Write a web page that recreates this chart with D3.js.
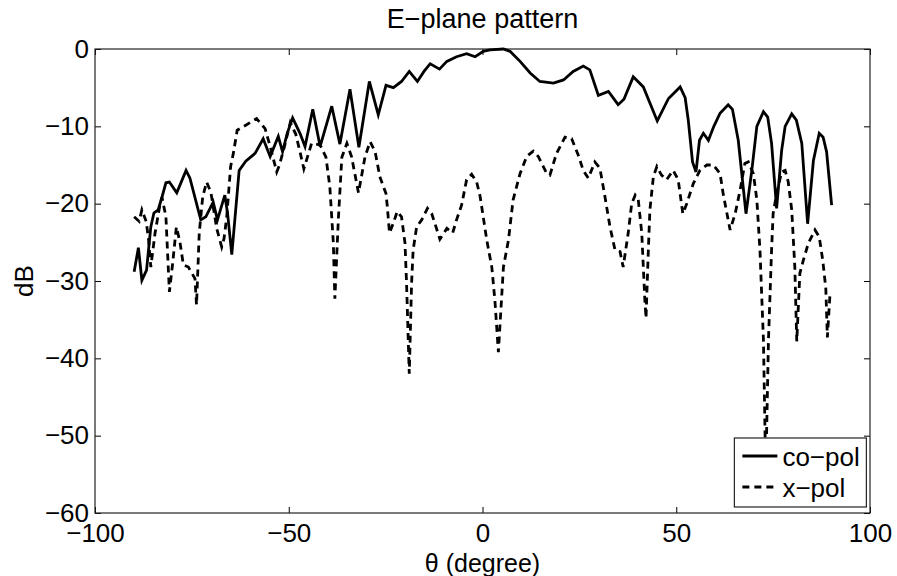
<!DOCTYPE html>
<html>
<head>
<meta charset="utf-8">
<script src="https://cdn.jsdelivr.net/npm/d3@7"></script>
<style>
  body { margin: 0; background: #fff; }
  text { font-family: "Liberation Sans", Arial, sans-serif; fill: #000; }
</style>
</head>
<body>
<div id="chart"></div>
<script>
// angles (degree) et niveaux (dB)
const coTheta = [-89.9, -88.8, -87.9, -86.7, -85.6, -84.8, -83.7, -82.8, -81.7, -80.8, -78.9, -76.5, -75.5,
  -72.7, -71.4, -69.5, -68.4, -66.5, -65.8, -64.7, -62.8, -61.1, -58.7, -56.6, -54.8, -52.7, -51.6, -50.4,
  -49, -47.1, -45.8, -43.8, -41.9, -38.9, -36.8, -34.2, -31.9, -29.2, -26.9, -24.9, -23, -20.9, -18.9, -16.8,
  -15.1, -13.5, -11.1, -9.2, -6.7, -4.1, -1.9, 0.2, 1.9, 5.4, 7.1, 9.7, 12.3, 14.8, 18.3, 20.9, 23.4, 26, 27.7,
  29.9, 32.5, 35, 36.5, 38.9, 41.5, 45.1, 48, 51, 52.3, 53.1, 54.2, 55.1, 56, 57, 58.3, 59.7, 61.3, 63.4, 64.5,
  66, 68, 69.5, 70.8, 72.5, 73.6, 74.6, 75.9, 77.2, 78.1, 79.8, 81, 82.4, 83.9, 85.4, 86.9, 87.9, 88.8, 90.1];
const coDb = [-28.8, -25.7, -29.9, -28.6, -23, -21.2, -20.8, -19.3, -17.3, -17.2, -18.6, -15.7, -16.7,
  -22.1, -21.7, -19.8, -22.1, -18.9, -21.2, -26.6, -15.7, -14.5, -13.5, -11.6, -13.9, -11.3, -13.3, -10.9,
  -8.9, -10.9, -12.6, -7.8, -12.6, -7.4, -12.3, -5.2, -12.7, -4.2, -8.5, -4.7, -5, -4.2, -2.9, -4.2,
  -2.9, -1.9, -2.6, -1.6, -1, -0.6, -1, -0.3, -0.1, 0, -0.3, -1.6, -3.1, -4.2, -4.4, -4, -2.9, -2.2, -2.7,
  -6, -5.5, -7.2, -6.5, -3.6, -4.9, -9.3, -6.4, -4.9, -6.3, -9.2, -14.6, -15.9, -11.8, -10.9, -11.8, -10, -8.3, -7.2, -7.8,
  -11.8, -21.3, -15.7, -10, -8.1, -8.8, -12.2, -20.6, -13.1, -10, -8.4, -9.2, -12.2, -22.6, -14.4, -10.9, -11.4, -13.3, -20.2];

const xTheta = [-89.9, -88.6, -87.9, -86.8, -86.2, -85.6, -84.5, -83.2, -82.7, -81.7, -80.8, -80, -79, -78.1,
  -77.2, -75.9, -74.2, -73.8, -73.1, -72.2, -71.2, -70.1, -68.6, -67.3, -66.7, -66, -65, -64.3, -63.3, -60.9,
  -58.3, -56.1, -54.8, -53.1, -52.4, -51, -49.6, -48.2, -47.1, -46.1, -44.1, -41.9, -40.4, -39.4, -38.5, -38.1,
  -37.2, -36.3, -35, -33.8, -32, -30.3, -29, -27.7, -26.5, -24.9, -24.6, -24, -23, -22, -20.9, -20, -19.6, -18.9,
  -18.3, -17.9, -17, -15.7, -14.2, -13.1, -12, -11, -9.2, -7.7, -6.7, -5.4, -4.1, -2.8, -1.5, -0.6, 1.1, 2.4,
  3.2, 4.1, 5.4, 6.7, 7.9, 9.7, 11.4, 13.1, 14.4, 16.6, 17.4, 19.1, 21.3, 23, 24.7, 26, 27.3, 29, 30.3, 31.6,
  32.9, 34.2, 35.5, 36.3, 37.6, 38.5, 39.4, 40.2, 41.1, 41.9, 42.2, 42.8, 43.2, 44.1, 45, 46.2, 47.5, 49.2, 50.5,
  51.7, 52.7, 54.4, 56.1, 57.9, 59.6, 61.3, 62.1, 63.4, 63.9, 65.2, 66.5, 67.7, 68.6, 69.9, 70.8, 71.6, 72.5,
  73.1, 73.8, 74.6, 75, 75.9, 77.2, 78.1, 78.9, 79.8, 80.6, 81.1, 81.9, 82.8, 84.1, 85.8, 86.9, 87.8, 88.6, 89, 89.7];
const xDb = [-21.7, -22.3, -20.8, -22.3, -24.5, -28.2, -23.8, -20, -19.2, -21.7, -31.4, -27.9, -23, -24.9,
  -27.9, -28.2, -29.7, -33.1, -23.8, -19.1, -17.2, -18.5, -23.2, -25.6, -24.5, -21.7, -15.2, -13.5, -10.5, -9.8,
  -9, -10.3, -12.6, -15.9, -15, -12.4, -9.5, -11, -13.3, -15.5, -12.2, -12.4, -14, -17.8, -25, -32.3,
  -22, -14, -12.2, -13.9, -18.6, -13.9, -12, -13.3, -16.5, -18.7, -20.2, -23.8, -22.5, -21, -21.7, -25.1, -30.3, -42,
  -30.3, -26, -23, -22.1, -20.6, -21.3, -23, -24.6, -23.2, -23.8, -22.1, -20.2, -16.9, -16.2, -17.2, -19.1, -24.7, -28.2,
  -32.5, -39.2, -28.2, -24.7, -19.5, -16.1, -13.9, -13.2, -13.9, -16.1, -16.3, -13.5, -11.4, -11.6, -13.7, -15.7, -16.7, -14.6, -15.4, -19.1,
  -23, -26, -26.2, -28.2, -23.8, -20, -18.9, -19.5, -23.8, -32.5, -34.8, -26, -20.8, -16.5, -15.2, -16.3, -16.9, -15.7, -16.9,
  -21.3, -20, -17.4, -15.7, -15, -15, -16.1, -18.7, -22.1, -23.4, -21.3, -18.2, -14.8, -14.6, -16.1, -19.5, -26, -37.6,
  -55, -37.6, -26, -21.3, -18.7, -15.9, -15.7, -17.2, -20.8, -28.2, -37.8, -29, -27.3, -25.1, -23.4, -24.3, -27.3, -31, -37.3, -31.5];

const xTicks = [-100, -50, 0, 50, 100];
const yTicks = [0, -10, -20, -30, -40, -50, -60];
const seriesNames = ["co\u2212pol", "x\u2212pol"];

const W = 897, H = 576;
const margin = { top: 49, right: 27, bottom: 63, left: 95 };
const width = W - margin.left - margin.right;
const height = H - margin.top - margin.bottom;
const fs = 26;

const svg = d3.select("#chart").append("svg")
  .attr("width", W).attr("height", H);
const g = svg.append("g")
  .attr("transform", `translate(${margin.left},${margin.top})`);

const x = d3.scaleLinear().domain([-100, 100]).range([0, width]);
const y = d3.scaleLinear().domain([-60, 0]).range([height, 0]);

const fmt = d => String(d).replace("-", "\u2212");

// axes (ticks vers l'intérieur, comme matlab)
g.append("g").attr("transform", `translate(0,${height})`)
  .call(d3.axisBottom(x).tickValues(xTicks).tickSizeInner(-6).tickSizeOuter(0).tickPadding(11).tickFormat(fmt))
  .call(a => a.select(".domain").remove())
  .call(a => a.selectAll("text").style("font-size", fs + "px").attr("dy", "0.71em"));
g.append("g")
  .call(d3.axisLeft(y).tickValues(yTicks).tickSizeInner(-6).tickSizeOuter(0).tickPadding(6).tickFormat(fmt))
  .call(a => a.select(".domain").remove())
  .call(a => a.selectAll("text").style("font-size", fs + "px"));
g.append("g")
  .call(d3.axisTop(x).tickValues(xTicks).tickSizeInner(-6).tickSizeOuter(0).tickFormat(""))
  .call(a => a.select(".domain").remove());
g.append("g").attr("transform", `translate(${width},0)`)
  .call(d3.axisRight(y).tickValues(yTicks).tickSizeInner(-6).tickSizeOuter(0).tickFormat(""))
  .call(a => a.select(".domain").remove());
g.selectAll(".tick line").attr("stroke", "#000");

g.append("rect")
  .attr("width", width).attr("height", height)
  .attr("fill", "none").attr("stroke", "#222").attr("stroke-width", 1.2);

// courbes
const line = d3.line().x(d => x(d[0])).y(d => y(d[1]));
const co = coTheta.map((t, i) => [t, coDb[i]]);
const xp = xTheta.map((t, i) => [t, xDb[i]]);

g.append("path").datum(xp)
  .attr("d", line).attr("fill", "none")
  .attr("stroke", "#000").attr("stroke-width", 2.8)
  .attr("stroke-dasharray", "7,5");
g.append("path").datum(co)
  .attr("d", line).attr("fill", "none")
  .attr("stroke", "#000").attr("stroke-width", 2.8);

// légende
const lg = g.append("g").attr("transform", `translate(${x(65)},${y(-50.3)})`);
lg.append("rect").attr("width", 132).attr("height", 69)
  .attr("fill", "#fff").attr("stroke", "#222").attr("stroke-width", 1.2);
seriesNames.forEach((name, i) => {
  const yy = 18 + i * 31;
  lg.append("line").attr("x1", 8).attr("x2", 43).attr("y1", yy).attr("y2", yy)
    .attr("stroke", "#000").attr("stroke-width", 2.8)
    .attr("stroke-dasharray", i === 1 ? "7,5" : null);
  lg.append("text").attr("x", 48).attr("y", yy + 10)
    .style("font-size", fs + "px").text(name);
});

// titres
svg.append("text")
  .attr("x", margin.left + width / 2).attr("y", 28)
  .attr("text-anchor", "middle").style("font-size", "27px")
  .text("E\u2212plane pattern");
svg.append("text")
  .attr("x", margin.left + width / 2).attr("y", 572)
  .attr("text-anchor", "middle").style("font-size", "25px")
  .text("\u03b8 (degree)");
svg.append("text")
  .attr("transform", `translate(33,${margin.top + height / 2}) rotate(-90)`)
  .attr("text-anchor", "middle").style("font-size", fs + "px")
  .text("dB");
</script>
</body>
</html>
